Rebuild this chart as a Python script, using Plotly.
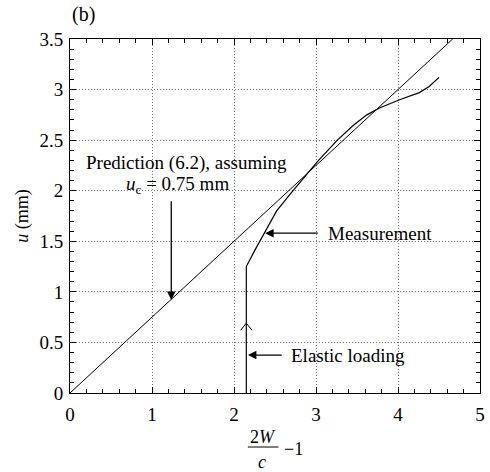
import plotly.graph_objects as go

# Data
uc = 0.75
pred_x = [0.0, 3.5 / 0.75]
pred_u = [uc * v for v in pred_x]

elastic_x = [2.15, 2.15]
elastic_u = [0.0, 1.25]

meas_x = [2.15, 2.26, 2.38, 2.52, 2.70, 2.86, 3.02, 3.26, 3.46, 3.62, 3.78, 4.02, 4.26, 4.38, 4.50]
meas_u = [1.25, 1.42, 1.60, 1.80, 1.98, 2.14, 2.29, 2.50, 2.65, 2.75, 2.82, 2.90, 2.97, 3.03, 3.12]

x_ticks = [0, 1, 2, 3, 4, 5]
y_ticks = [0, 0.5, 1, 1.5, 2, 2.5, 3, 3.5]
y_tick_text = ["0", "0.5", "1", "1.5", "2", "2.5", "3", "3.5"]

FONT = "Liberation Serif, Times New Roman, serif"
W, H = 490, 472
L, R, T, B = 70, 5, 39, 79

fig = go.Figure()
fig.add_trace(go.Scatter(x=pred_x, y=pred_u, mode="lines",
                         line=dict(color="black", width=1), showlegend=False))
fig.add_trace(go.Scatter(x=elastic_x + meas_x[1:], y=elastic_u + meas_u[1:], mode="lines",
                         line=dict(color="black", width=1.2), showlegend=False))
# small chevron on elastic line
xe = elastic_x[0]
fig.add_trace(go.Scatter(x=[xe - 0.07, xe, xe + 0.07], y=[0.62, 0.69, 0.62], mode="lines",
                         line=dict(color="black", width=1), showlegend=False))

axis_common = dict(
    showline=True, linecolor="black", linewidth=1, mirror="ticks",
    ticks="inside", ticklen=6, tickcolor="black",
    showgrid=True, gridcolor="#777", griddash="1px,2px", gridwidth=1,
    zeroline=False, tickfont=dict(family=FONT, size=19, color="black"),
)
fig.update_xaxes(range=[0, 5], tickvals=x_ticks, ticklabelstandoff=4,
                 minor=dict(dtick=0.2, ticks="inside", ticklen=4, tickcolor="black", showgrid=False),
                 **axis_common)
fig.update_yaxes(range=[0, 3.5], tickvals=y_ticks, ticktext=y_tick_text, ticklabelstandoff=2,
                 minor=dict(dtick=0.1, ticks="inside", ticklen=4, tickcolor="black", showgrid=False),
                 title=dict(text="<i>u</i> (mm)", font=dict(family=FONT, size=18, color="black"), standoff=6),
                 **axis_common)

pw, ph = W - L - R, H - T - B
def px(xp):
    return (xp - L) / pw
def py(yp):
    return 1 - (yp - T) / ph

tf = dict(family=FONT, size=19, color="black")
ann = []
ann.append(dict(x=1.415, y=2.27, xref="x", yref="y", text="Prediction (6.2), assuming",
                showarrow=False, font=tf, xanchor="center", yanchor="middle"))
ann.append(dict(x=1.31, y=2.06, xref="x", yref="y", text="<i>u</i><sub>c</sub> = 0.75 mm",
                showarrow=False, font=tf, xanchor="center", yanchor="middle"))
arrow = dict(xref="x", yref="y", axref="x", ayref="y", text="", showarrow=True,
             arrowhead=2, arrowsize=1.3, arrowwidth=1.3, arrowcolor="black")
ann.append(dict(x=1.235, y=0.92, ax=1.235, ay=1.91, **arrow))
ann.append(dict(x=2.38, y=1.58, ax=3.04, ay=1.58, **arrow))
ann.append(dict(x=2.17, y=0.375, ax=2.6, ay=0.375, **arrow))
ann.append(dict(x=3.12, y=1.58, xref="x", yref="y", text="Measurement",
                showarrow=False, font=tf, xanchor="left", yanchor="middle"))
ann.append(dict(x=2.67, y=0.375, xref="x", yref="y", text="Elastic loading",
                showarrow=False, font=tf, xanchor="left", yanchor="middle"))
# panel label
ann.append(dict(x=px(84), y=py(15), xref="paper", yref="paper", text="(b)", showarrow=False,
                font=dict(family=FONT, size=20, color="black"), xanchor="center", yanchor="middle"))
# x-axis title as fraction
ff = dict(family=FONT, size=18, color="black")
ann.append(dict(x=px(265), y=py(437), xref="paper", yref="paper", text="2<i>W</i>",
                showarrow=False, font=ff, xanchor="center", yanchor="middle"))
ann.append(dict(x=px(264), y=py(462), xref="paper", yref="paper", text="<i>c</i>",
                showarrow=False, font=ff, xanchor="center", yanchor="middle"))
ann.append(dict(x=px(296), y=py(449), xref="paper", yref="paper", text="\u22121",
                showarrow=False, font=ff, xanchor="center", yanchor="middle"))
fig.update_layout(annotations=ann)
fig.add_shape(type="line", xref="paper", yref="paper", x0=px(250), x1=px(281), y0=py(447), y1=py(447),
              line=dict(color="black", width=1))

fig.update_layout(width=W, height=H, margin=dict(l=L, r=R, t=T, b=B),
                  paper_bgcolor="white", plot_bgcolor="white")
fig.write_html("out.html")
